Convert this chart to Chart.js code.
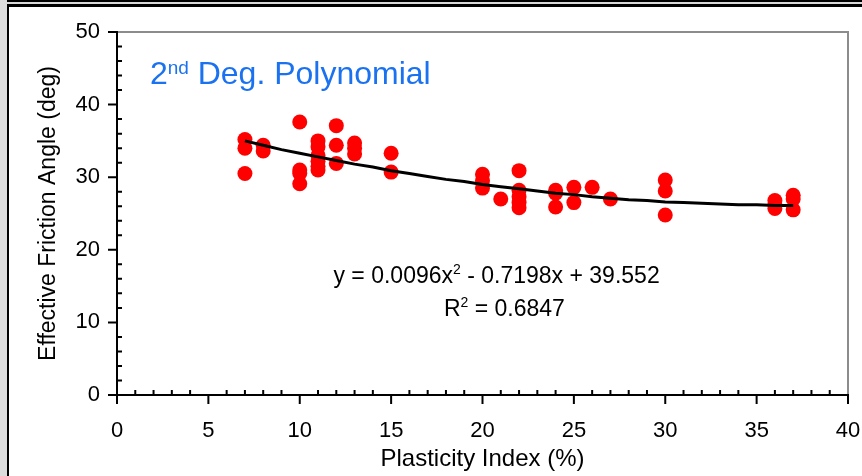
<!DOCTYPE html>
<html>
<head>
<meta charset="utf-8">
<script src="https://cdn.jsdelivr.net/npm/chart.js@4/dist/chart.umd.min.js"></script>
<style>
  html, body { margin: 0; padding: 0; background: #fff; }
  #wrap { position: relative; width: 862px; height: 476px; overflow: hidden; }
  #c { position: absolute; left: 0; top: 0; }
  .f { position: absolute; z-index: 2; }
</style>
</head>
<body>
<div id="wrap">
  <canvas id="c" width="862" height="476"></canvas>
  <div class="f" style="left:0;top:0;width:7px;height:476px;background:#dcdcdc"></div>
  <div class="f" style="left:7px;top:0;width:2px;height:476px;background:#000"></div>
  <div class="f" style="left:7px;top:0;width:855px;height:2px;background:#000"></div>
  <div class="f" style="left:7px;top:2px;width:855px;height:2px;background:#d8d8d8"></div>
  <div class="f" style="left:7px;top:4px;width:855px;height:3px;background:#000"></div>
</div>
<script>
// ---- data ----
const plasticityIndex = [
  7, 7, 7,
  8, 8,
  10, 10, 10, 10,
  11, 11, 11, 11, 11, 11,
  12, 12, 12,
  13, 13, 13,
  15, 15,
  20, 20, 20,
  21,
  22, 22, 22, 22, 22,
  24, 24, 24,
  25, 25,
  26,
  27,
  30, 30, 30,
  36, 36, 36,
  37, 37, 37
];
const frictionAngle = [
  35.2, 34.0, 30.5,
  34.4, 33.6,
  37.6, 31.0, 30.5, 29.1,
  35.0, 34.2, 33.0, 32.2, 31.5, 31.0,
  37.1, 34.4, 31.9,
  34.7, 34.0, 33.2,
  33.3, 30.7,
  30.4, 29.5, 28.5,
  27.0,
  30.9, 28.2, 27.3, 26.5, 25.8,
  28.2, 27.8, 25.9,
  28.6, 26.5,
  28.6,
  27.0,
  29.6, 28.1, 24.8,
  26.8, 26.2, 25.7,
  27.5, 27.0, 25.5
];
// trend line
const trendX = [7, 8, 9, 10, 11, 12, 13, 14, 15, 16, 17, 18, 19, 20, 21, 22, 23, 24, 25, 26, 27, 28, 29, 30, 31, 32, 33, 34, 35, 36, 37];
const trendY = [35.0, 34.4, 33.8, 33.3, 32.8, 32.3, 31.8, 31.4, 30.9, 30.5, 30.1, 29.7, 29.4, 29.0, 28.7, 28.4, 28.1, 27.8, 27.6, 27.3, 27.1, 26.9, 26.8, 26.6, 26.5, 26.4, 26.3, 26.2, 26.2, 26.1, 26.1];
const xTickLabels = [0, 5, 10, 15, 20, 25, 30, 35, 40];
const yTickLabels = [0, 10, 20, 30, 40, 50];
const xTitle = 'Plasticity Index (%)';
const yTitle = 'Effective Friction Angle (deg)';
const chartLabel = ['2', 'nd', ' Deg. Polynomial'];
const equationParts = ['y = 0.0096x', '2', ' - 0.7198x + 39.552'];
const r2Parts = ['R', '2', ' = 0.6847'];

const FONT = '"Liberation Sans", Arial, sans-serif';

function drawRuns(ctx, runs, cx, baseline, align) {
  let total = 0;
  runs.forEach(r => { ctx.font = r.size + 'px ' + FONT; r.w = ctx.measureText(r.t).width; total += r.w; });
  let px = align === 'center' ? cx - total / 2 : cx;
  ctx.textAlign = 'left';
  runs.forEach(r => {
    ctx.font = r.size + 'px ' + FONT;
    ctx.fillText(r.t, px, baseline - r.dy);
    px += r.w;
  });
}

const axesPlugin = {
  id: 'axesPlugin',
  beforeDatasetsDraw(chart) {
    const { ctx, chartArea: a, scales: { x, y } } = chart;
    ctx.save();
    ctx.lineCap = 'butt';
    ctx.strokeStyle = '#8c8c8c';
    ctx.lineWidth = 2;
    ctx.beginPath();
    ctx.moveTo(a.left, a.top); ctx.lineTo(a.right, a.top); ctx.lineTo(a.right, a.bottom);
    ctx.stroke();
    ctx.strokeStyle = '#000';
    ctx.lineWidth = 2;
    ctx.beginPath();
    ctx.moveTo(a.left, a.top - 1); ctx.lineTo(a.left, a.bottom); ctx.lineTo(a.right + 1, a.bottom);
    ctx.stroke();
    ctx.beginPath();
    for (let v = 0; v <= 50; v += 2) {
      const py = y.getPixelForValue(v);
      if (yTickLabels.includes(v)) { ctx.moveTo(a.left - 9, py); ctx.lineTo(a.left, py); }
      else { ctx.moveTo(a.left, py); ctx.lineTo(a.left + 5, py); }
    }
    for (let v = 0; v <= 40; v += 1) {
      const px = x.getPixelForValue(v);
      if (xTickLabels.includes(v)) { ctx.moveTo(px, a.bottom); ctx.lineTo(px, a.bottom + 9); }
      else { ctx.moveTo(px, a.bottom); ctx.lineTo(px, a.bottom - 5); }
    }
    ctx.stroke();
    ctx.restore();
  },
  afterDraw(chart) {
    const { ctx, scales: { x, y } } = chart;
    ctx.save();
    ctx.textBaseline = 'alphabetic';
    ctx.fillStyle = '#1a72f0';
    drawRuns(ctx, [
      { t: chartLabel[0], size: 32, dy: 0 },
      { t: chartLabel[1], size: 19, dy: 10 },
      { t: chartLabel[2], size: 32, dy: 0 }
    ], x.getPixelForValue(1.8), y.getPixelForValue(42.9), 'left');
    ctx.fillStyle = '#000';
    drawRuns(ctx, [
      { t: equationParts[0], size: 23, dy: 0 },
      { t: equationParts[1], size: 14, dy: 9 },
      { t: equationParts[2], size: 23, dy: 0 }
    ], x.getPixelForValue(20.77), y.getPixelForValue(15.4), 'center');
    drawRuns(ctx, [
      { t: r2Parts[0], size: 23, dy: 0 },
      { t: r2Parts[1], size: 14, dy: 9 },
      { t: r2Parts[2], size: 23, dy: 0 }
    ], x.getPixelForValue(21.2), y.getPixelForValue(10.85), 'center');
    ctx.restore();
  }
};

new Chart(document.getElementById('c'), {
  type: 'scatter',
  data: {
    datasets: [
      {
        label: 'data',
        data: plasticityIndex.map((v, i) => ({ x: v, y: frictionAngle[i] })),
        backgroundColor: '#ff0000',
        borderColor: '#ff0000',
        borderWidth: 0,
        pointRadius: 7.5,
        pointHoverRadius: 7.5,
        order: 2
      },
      {
        label: 'trend',
        data: trendX.map((v, i) => ({ x: v, y: trendY[i] })),
        showLine: true,
        borderColor: '#000',
        borderWidth: 3,
        pointRadius: 0,
        tension: 0,
        fill: false,
        order: 1
      }
    ]
  },
  options: {
    responsive: false,
    animation: false,
    events: [],
    layout: { padding: { left: 0, top: 32, right: 14, bottom: 0 } },
    plugins: { legend: { display: false }, tooltip: { enabled: false } },
    scales: {
      x: {
        type: 'linear', min: 0, max: 40,
        afterBuildTicks: s => { s.ticks = xTickLabels.map(v => ({ value: v })); },
        ticks: { color: '#000', font: { family: FONT, size: 22 }, padding: 23, maxRotation: 0, autoSkip: false },
        grid: { display: false, drawTicks: false },
        border: { display: false },
        title: { display: true, text: xTitle, color: '#000', font: { family: FONT, size: 24 }, padding: { top: 0, bottom: 2 } },
        afterFit: s => { s.height = 81; s.paddingLeft = 0; s.paddingRight = 0; }
      },
      y: {
        type: 'linear', min: 0, max: 50,
        afterBuildTicks: s => { s.ticks = yTickLabels.map(v => ({ value: v })); },
        ticks: { color: '#000', font: { family: FONT, size: 22 }, padding: 17, autoSkip: false },
        grid: { display: false, drawTicks: false },
        border: { display: false },
        title: { display: true, text: yTitle, color: '#000', font: { family: FONT, size: 23 }, padding: { top: 35, bottom: 0 } },
        afterFit: s => { s.width = 117; s.paddingTop = 0; s.paddingBottom = 0; }
      }
    }
  },
  plugins: [axesPlugin]
});
</script>
</body>
</html>
